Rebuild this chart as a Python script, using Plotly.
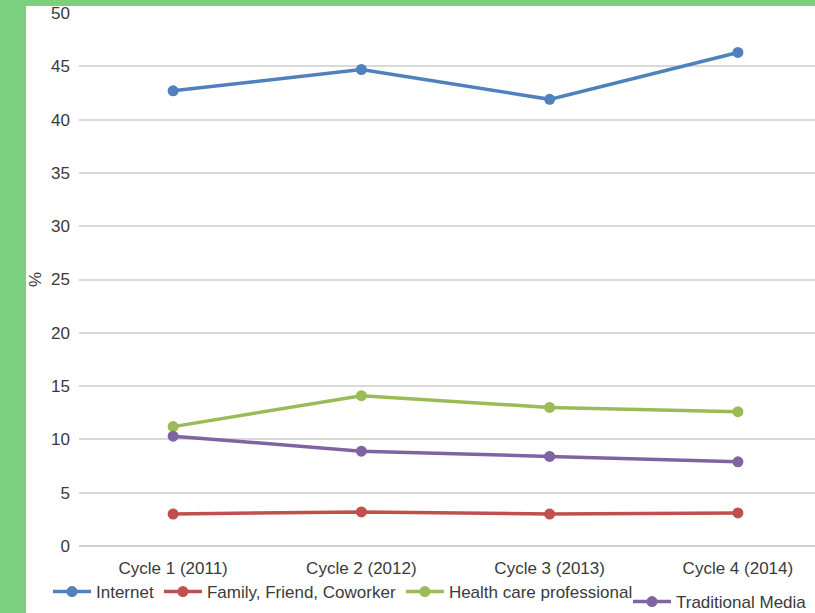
import plotly.graph_objects as go

categories = ["Cycle 1 (2011)", "Cycle 2 (2012)", "Cycle 3 (2013)", "Cycle 4 (2014)"]
internet = [42.7, 44.7, 41.9, 46.3]
family = [3.0, 3.2, 3.0, 3.1]
health = [11.2, 14.1, 13.0, 12.6]
traditional = [10.3, 8.9, 8.4, 7.9]
y_ticks = [0, 5, 10, 15, 20, 25, 30, 35, 40, 45, 50]

W, H = 815, 613
L, R, T, B = 79, 0, 13, 67
pw, ph = W - L - R, H - T - B

def px_x(x):
    return (x - L) / pw

def px_y(y):
    return (H - B - y) / ph

font = dict(family="Liberation Sans, Arial, sans-serif", size=17, color="#3A3A3A")

series = [
    ("Internet", internet, "#4F81BD", "legend"),
    ("Family, Friend, Coworker", family, "#C0504D", "legend"),
    ("Health care professional", health, "#9BBB59", "legend"),
    ("Traditional Media", traditional, "#8064A2", "legend2"),
]

fig = go.Figure()
for name, vals, color, lg in series:
    fig.add_trace(go.Scatter(
        x=categories, y=vals, name=name, mode="lines+markers",
        line=dict(color=color, width=3.5),
        marker=dict(color=color, size=11),
        legend=lg,
    ))

fig.update_layout(
    width=W, height=H,
    margin=dict(l=L, r=R, t=T, b=B, autoexpand=False),
    paper_bgcolor="white", plot_bgcolor="white",
    font=font,
    showlegend=True,
    legend=dict(orientation="h", x=px_x(48), xanchor="left", y=px_y(592), yanchor="middle",
                font=font, bgcolor="rgba(0,0,0,0)", itemwidth=38, tracegroupgap=0),
    legend2=dict(orientation="h", x=px_x(628), xanchor="left", y=px_y(602), yanchor="middle",
                 font=font, bgcolor="rgba(0,0,0,0)", itemwidth=38),
    xaxis=dict(type="category", range=[-0.5, 3.5 - (832 - 815) / 188.0],
               showgrid=False, showline=False, zeroline=False,
               tickfont=font, ticks="", ticklen=0, ticklabelstandoff=10),
    yaxis=dict(range=[0, 50], tickvals=y_ticks, showgrid=True, gridcolor="#D9D9D9", gridwidth=2,
               zeroline=True, zerolinecolor="#CFCFCF", zerolinewidth=2,
               showline=False, tickfont=font, ticks="", ticklabelstandoff=8,
               title=dict(text="%", font=font, standoff=5)),
    shapes=[
        dict(type="rect", xref="paper", yref="paper", layer="above",
             x0=px_x(0), x1=px_x(26), y0=px_y(H), y1=px_y(0),
             fillcolor="#7CCF7F", line=dict(width=0)),
        dict(type="rect", xref="paper", yref="paper", layer="above",
             x0=px_x(0), x1=px_x(W), y0=px_y(6), y1=px_y(0),
             fillcolor="#7CCF7F", line=dict(width=0)),
    ],
)

fig.write_html("out.html", config={"displayModeBar": False},
               post_script="document.body.style.margin='0';document.body.style.padding='0';document.body.style.overflow='hidden';")
